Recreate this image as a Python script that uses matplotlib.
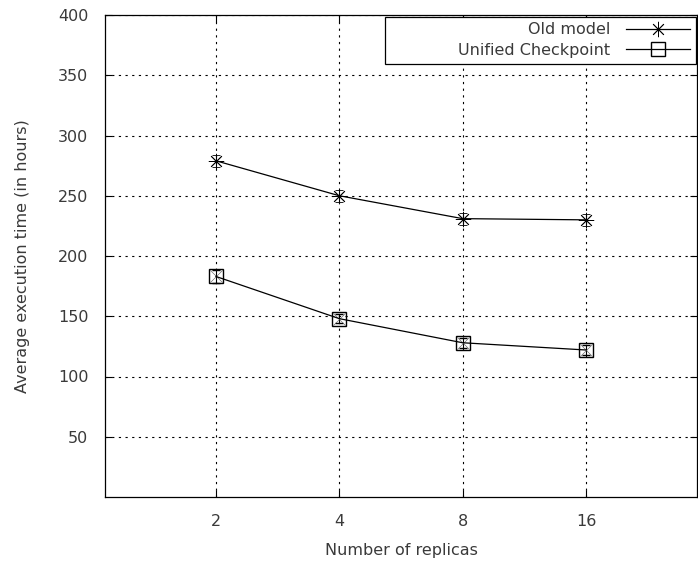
import matplotlib
matplotlib.use("Agg")
import matplotlib.pyplot as plt
from matplotlib.lines import Line2D
from matplotlib.patches import Rectangle

plt.rcParams['font.family'] = ['DejaVu Sans']

replicas = ["2", "4", "8", "16"]
old_model = [279, 250, 231, 230]
old_err = [5, 5, 5, 5]
unified = [183, 148, 128, 122]
unified_err = [5, 4, 4, 4]

FS = 11.5
TXT = '#3a3a3a'

fig = plt.figure(figsize=(6.98, 5.65), dpi=100)
ax = fig.add_axes([105/698, 1-497/565, (697-105)/698, (497-15)/565])

x = list(range(1, len(replicas)+1))
star = (8, 2, 0)
ax.errorbar(x, old_model, yerr=old_err, color='black', lw=0.9, marker=star,
            ms=11, mew=0.6, capsize=3, elinewidth=0.8)
ax.errorbar(x, unified, yerr=unified_err, color='black', lw=0.9, marker='s',
            ms=10.5, mfc='none', mew=1.0, capsize=3, elinewidth=0.8)
ax.plot(x, unified, ls='none', marker='x', ms=9, mew=0.4, color='#555555')

ax.set_xlim(0.1, 4.9)
ax.set_ylim(0, 400)
ax.set_xticks(x)
ax.set_xticklabels(replicas)
ax.set_yticks([50, 100, 150, 200, 250, 300, 350, 400])
ax.grid(True, color='black', ls=(0, (2, 4)), lw=0.8)
ax.tick_params(direction='in', top=True, right=True, length=5, labelsize=FS,
               colors='black', labelcolor=TXT)
ax.tick_params(axis='y', pad=12)
ax.tick_params(axis='x', pad=12)
for s in ax.spines.values():
    s.set_linewidth(0.9)
ax.set_xlabel('Number of replicas', fontsize=FS, color=TXT, labelpad=10)
ax.set_ylabel('Average execution time (in hours)', fontsize=FS, color=TXT, labelpad=20)

handles = [
    Line2D([], [], color='black', lw=0.9, marker=star, ms=11, mew=0.6),
    Line2D([], [], color='black', lw=0.9, marker='s', ms=10.5, mfc='none', mew=1.0),
]
leg = ax.legend(handles, ['Old model', 'Unified Checkpoint'], loc='upper right',
                frameon=False, fontsize=FS,
                markerfirst=False, borderaxespad=0.15, handlelength=4.0,
                labelspacing=0.35, borderpad=0.3, handletextpad=1.0)
for t in leg.get_texts():
    t.set_color(TXT)
    t.set_ha('right')

x0 = (385-105)/592
x1 = (696-105)/592
y1 = (497-17)/482
y0 = (497-64)/482
ax.add_patch(Rectangle((x0, y0), x1-x0, y1-y0, transform=ax.transAxes,
                       fill=True, facecolor='white', edgecolor='black', lw=0.9, zorder=4))
leg.set_zorder(5)

fig.savefig('out.png', dpi=100)
